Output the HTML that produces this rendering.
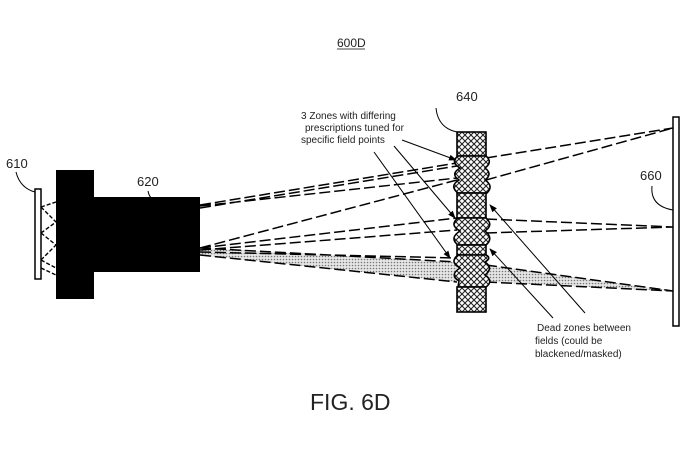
<!DOCTYPE html>
<html><head><style>body{margin:0;background:#fff}svg{display:block}text{font-family:"Liberation Sans",sans-serif;fill:#222}</style></head>
<body>
<svg width="700" height="461" viewBox="0 0 700 461" xmlns="http://www.w3.org/2000/svg">
<defs>
<pattern id="hatch" width="6" height="6" patternUnits="userSpaceOnUse">
<rect width="6" height="6" fill="#fff"/>
<path d="M0,0L6,6M6,0L0,6" stroke="#222" stroke-width="1.1"/>
</pattern>
<pattern id="dots" width="3" height="3" patternUnits="userSpaceOnUse">
<rect width="3" height="3" fill="#e6e6e6"/>
<circle cx="1.5" cy="1.5" r="0.8" fill="#777"/>
</pattern>
<marker id="ar" markerWidth="8" markerHeight="8" refX="7" refY="4" orient="auto" markerUnits="userSpaceOnUse">
<path d="M0,1L8,4L0,7Z" fill="#000"/>
</marker>
</defs>

<text x="337" y="47" font-size="12">600D</text>
<line x1="337" y1="49" x2="365" y2="49" stroke="#444" stroke-width="1"/>

<text x="6" y="168" font-size="13">610</text>
<path d="M16,172 Q20,188 35,192" fill="none" stroke="#000"/>
<rect x="35" y="189" width="6" height="90" fill="#fff" stroke="#000" stroke-width="1.5"/>
<g stroke="#000" stroke-dasharray="4,2" fill="none" stroke-width="1.4">
<path d="M41,207 L56,202 M41,207 L56,222 M41,233 L56,222 M41,233 L56,245 M41,260 L56,245 M41,260 L56,268 M41,268 L56,275"/>
</g>

<text x="137" y="186" font-size="13">620</text>
<path d="M148,191 Q150,204 166,198" fill="none" stroke="#000"/>
<rect x="56" y="170" width="38" height="129" fill="#000"/>
<rect x="93" y="197" width="107" height="75" fill="#000"/>

<path d="M200,248 L457,262 L457,282 L200,255 Z" fill="url(#dots)"/>
<path d="M486,265 L673,291 L486,282 Z" fill="url(#dots)"/>

<g stroke="#000" stroke-dasharray="11,4" fill="none" stroke-width="1.5">
<path d="M200,205 L457,163 M200,208 L457,166 M200,206 L457,178"/>
<path d="M200,248 L457,180 M200,248 L457,218 M200,250 L457,230 M200,252 L457,258 M200,248 L457,262 M200,255 L457,282"/>
<path d="M486,158 L673,128 M486,180 L673,128"/>
<path d="M486,219 L673,227 M486,233 L673,227"/>
<path d="M486,265 L673,291 M486,282 L673,291"/>
</g>

<text x="456" y="101" font-size="13">640</text>
<path d="M436,108 Q438,128 457,132" fill="none" stroke="#000"/>
<g fill="url(#hatch)" stroke="#000" stroke-width="1.6">
<rect x="457" y="132" width="29" height="24"/>
<path d="M458,156 Q450,162 460,168 Q450,174 459,180 Q449,186 458,193 L487,193 Q494,186 485,180 Q493,174 485,168 Q493,162 486,156 Z"/>
<rect x="457" y="193" width="29" height="25"/>
<path d="M458,218 Q449,225 460,231 Q449,238 458,245 L486,245 Q494,238 485,231 Q494,225 486,218 Z"/>
<rect x="457" y="245" width="29" height="10"/>
<path d="M458,255 Q449,262 460,268 Q449,275 459,281 L458,287 L486,287 Q494,281 485,275 Q494,268 485,262 Q492,258 486,255 Z"/>
<rect x="457" y="287" width="29" height="25"/>
</g>

<text x="640" y="180" font-size="13">660</text>
<path d="M652,186 Q650,206 673,210" fill="none" stroke="#000"/>
<rect x="673" y="117" width="6" height="209" fill="#fff" stroke="#000" stroke-width="1.5"/>

<text x="301" y="119" font-size="10">3 Zones with differing</text>
<text x="305" y="131" font-size="10">prescriptions tuned for</text>
<text x="301" y="143" font-size="10">specific field points</text>
<g stroke="#000" stroke-width="1" marker-end="url(#ar)">
<line x1="402" y1="140" x2="456" y2="160"/>
<line x1="394" y1="146" x2="455" y2="218"/>
<line x1="374" y1="152" x2="450" y2="258"/>
<line x1="585" y1="313" x2="490" y2="205"/>
<line x1="553" y1="318" x2="490" y2="249"/>
</g>
<text x="537" y="331" font-size="10">Dead zones between</text>
<text x="535" y="344" font-size="10">fields (could be</text>
<text x="535" y="357" font-size="10">blackened/masked)</text>

<text x="310" y="410" font-size="23">FIG. 6D</text>
</svg>
</body></html>
